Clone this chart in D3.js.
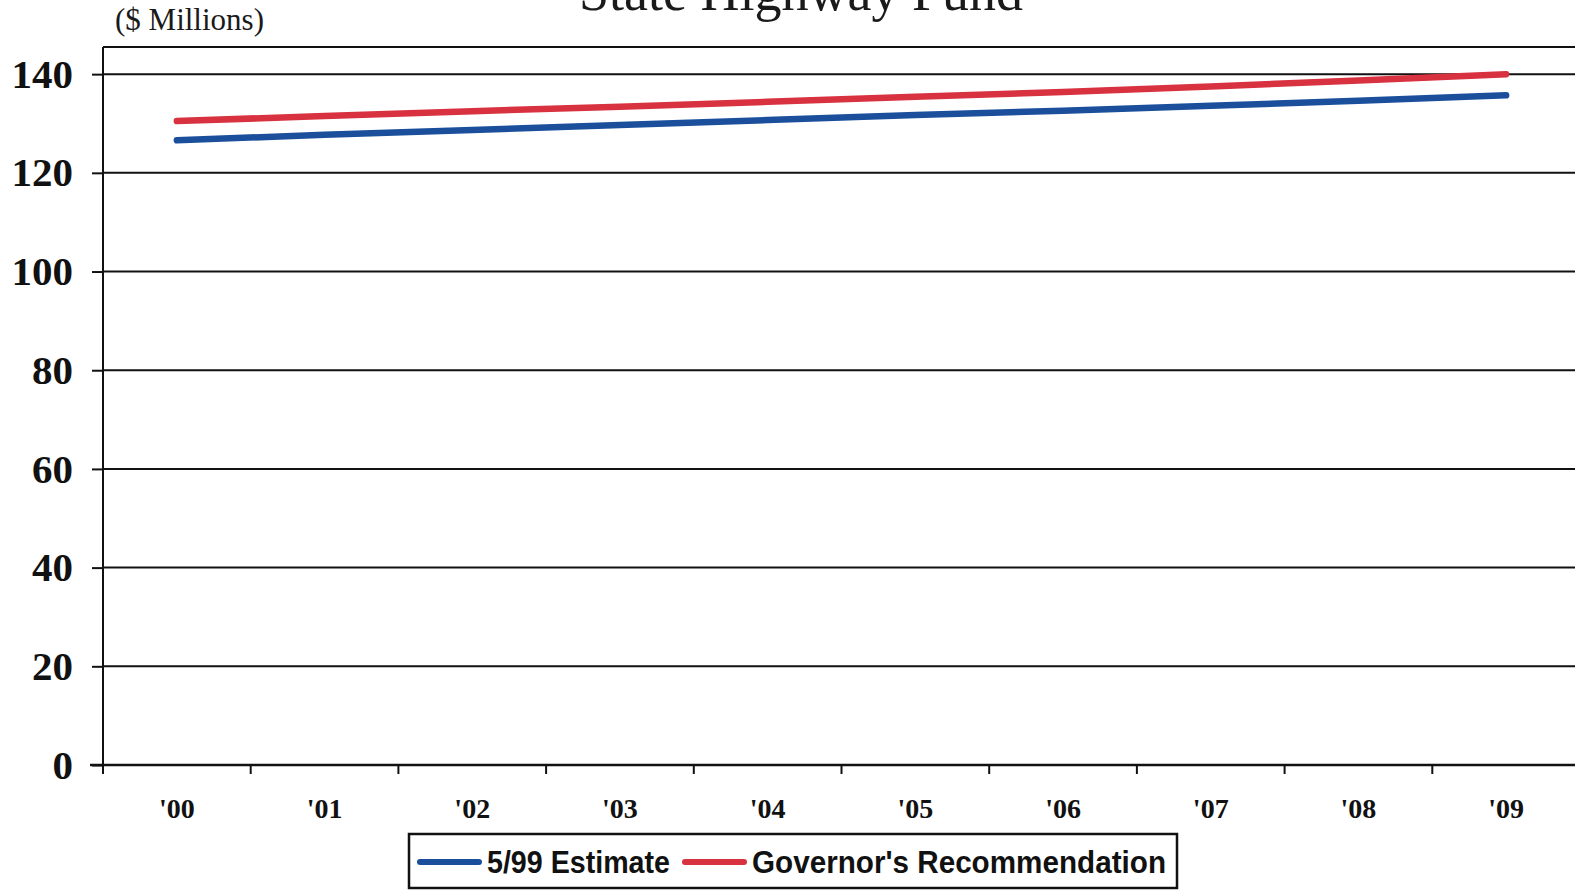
<!DOCTYPE html>
<html>
<head>
<meta charset="utf-8">
<script src="https://cdn.jsdelivr.net/npm/d3@7"></script>
<style>
  html, body { margin: 0; padding: 0; background: #fff; }
  svg { display: block; }
</style>
</head>
<body>
<script>
// ---- Data ----
const categories = ["'00", "'01", "'02", "'03", "'04", "'05", "'06", "'07", "'08", "'09"];
const estimate599 = [126.6, 127.7, 128.7, 129.7, 130.7, 131.7, 132.6, 133.6, 134.6, 135.7];
const governorsRec = [130.5, 131.5, 132.5, 133.4, 134.4, 135.4, 136.4, 137.5, 138.7, 140.0];
const yTickValues = [0, 20, 40, 60, 80, 100, 120, 140];
const seriesNames = ["5/99 Estimate", "Governor's Recommendation"];
const titleText = "State Highway Fund";
const unitText = "($ Millions)";

// ---- Layout ----
const W = 1575, H = 890;
const plotLeft = 103, plotRight = 1580, plotTop = 47, plotBottom = 765;

const svg = d3.select("body").append("svg").attr("width", W).attr("height", H);

const x = d3.scaleBand().domain(categories).range([plotLeft, plotRight]).padding(0);
const y = d3.scaleLinear().domain([0, 145.5]).range([plotBottom, plotTop]);

const colors = { est: "#1b4f9c", gov: "#d8313f" };

// Title (cut off at top, as in the reference)
svg.append("text")
  .attr("x", 801).attr("y", 10)
  .attr("text-anchor", "middle")
  .attr("font-family", "'Liberation Serif', 'Times New Roman', serif")
  .attr("font-size", 54)
  .attr("fill", "#1a1a1a")
  .text(titleText);

svg.append("text")
  .attr("x", 115).attr("y", 30)
  .attr("font-family", "'Liberation Serif', 'Times New Roman', serif")
  .attr("font-size", 31)
  .attr("fill", "#1a1a1a")
  .text(unitText);

// Plot top frame
svg.append("line")
  .attr("x1", plotLeft).attr("x2", W).attr("y1", plotTop).attr("y2", plotTop)
  .attr("stroke", "#111").attr("stroke-width", 2);

// Gridlines
svg.append("g").selectAll("line")
  .data(yTickValues.filter(d => d > 0))
  .join("line")
  .attr("x1", plotLeft).attr("x2", W)
  .attr("y1", d => y(d)).attr("y2", d => y(d))
  .attr("stroke", "#111").attr("stroke-width", 2);

// Y axis
const yAxis = d3.axisLeft(y).tickValues(yTickValues).tickSizeInner(11).tickSizeOuter(0).tickPadding(19);
const gy = svg.append("g").attr("transform", `translate(${plotLeft},0)`).call(yAxis);
gy.select(".domain").attr("stroke", "#111").attr("stroke-width", 2)
  .attr("d", `M0,${plotTop}V${plotBottom}`);
gy.selectAll(".tick line").attr("stroke", "#111").attr("stroke-width", 2);
gy.selectAll(".tick text")
  .attr("font-family", "'Liberation Serif', 'Times New Roman', serif")
  .attr("font-weight", "bold")
  .attr("font-size", 41)
  .attr("fill", "#111");

// X axis
const xAxis = d3.axisBottom(x).tickSize(0).tickPadding(0);
const gx = svg.append("g").attr("transform", `translate(0,${plotBottom})`).call(xAxis);
gx.select(".domain").remove();
gx.selectAll(".tick text")
  .attr("y", 53)
  .attr("dy", 0)
  .attr("font-family", "'Liberation Serif', 'Times New Roman', serif")
  .attr("font-weight", "bold")
  .attr("font-size", 28)
  .attr("fill", "#111");
svg.append("line")
  .attr("x1", plotLeft - 13).attr("x2", W).attr("y1", plotBottom).attr("y2", plotBottom)
  .attr("stroke", "#111").attr("stroke-width", 2.5);
// category boundary ticks
svg.append("g").selectAll("line")
  .data(categories)
  .join("line")
  .attr("x1", d => x(d)).attr("x2", d => x(d))
  .attr("y1", plotBottom).attr("y2", plotBottom + 9)
  .attr("stroke", "#111").attr("stroke-width", 2);

// Lines
const line = d3.line().x((d, i) => x(categories[i]) + x.bandwidth() / 2).y(d => y(d));
svg.append("path").datum(estimate599)
  .attr("d", line).attr("fill", "none")
  .attr("stroke", colors.est).attr("stroke-width", 6.5).attr("stroke-linecap", "round");
svg.append("path").datum(governorsRec)
  .attr("d", line).attr("fill", "none")
  .attr("stroke", colors.gov).attr("stroke-width", 6.5).attr("stroke-linecap", "round");

// Legend
const lg = svg.append("g");
lg.append("rect")
  .attr("x", 409).attr("y", 834).attr("width", 768).attr("height", 54)
  .attr("fill", "#fff").attr("stroke", "#111").attr("stroke-width", 2.5);
const legendItems = [
  { name: seriesNames[0], color: colors.est, lx: 420, tx: 487, tl: 183 },
  { name: seriesNames[1], color: colors.gov, lx: 685, tx: 752, tl: 414 }
];
legendItems.forEach(it => {
  lg.append("line")
    .attr("x1", it.lx).attr("x2", it.lx + 59).attr("y1", 862).attr("y2", 862)
    .attr("stroke", it.color).attr("stroke-width", 6).attr("stroke-linecap", "round");
  lg.append("text")
    .attr("x", it.tx).attr("y", 873)
    .attr("font-family", "'Liberation Sans', Arial, sans-serif")
    .attr("font-weight", "bold")
    .attr("font-size", 31)
    .attr("textLength", it.tl)
    .attr("lengthAdjust", "spacingAndGlyphs")
    .attr("fill", "#111")
    .text(it.name);
});
</script>
</body>
</html>
